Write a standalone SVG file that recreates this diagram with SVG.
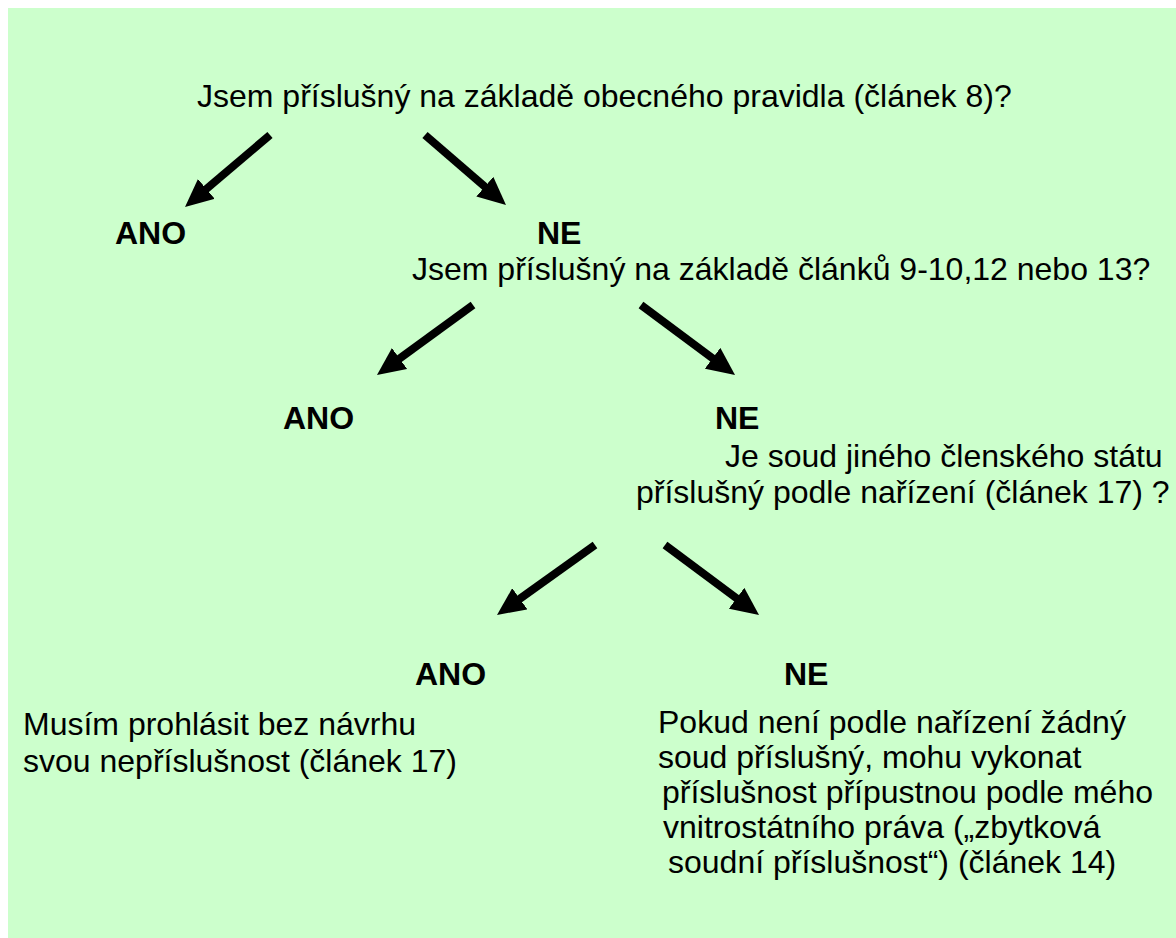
<svg xmlns="http://www.w3.org/2000/svg" width="1176" height="938" viewBox="0 0 1176 938">
  <style>
    text { font-family: "Liberation Sans", Arial, sans-serif; font-size: 32px; fill: #000; }
    .b { font-weight: bold; }
    .conn { stroke: #000; stroke-width: 8; fill: none; marker-end: url(#head); }
  </style>
  <defs>
    <marker id="head" markerUnits="userSpaceOnUse" markerWidth="28" markerHeight="26" refX="14" refY="13" orient="auto">
      <path d="M0,0 L28,13 L0,26 z" fill="#000"/>
    </marker>
  </defs>

  <rect x="8" y="8" width="1168" height="930" fill="#CCFFCC"/>

  <g id="connectors">
    <line class="conn" x1="270" y1="135" x2="195.7" y2="198"/>
    <line class="conn" x1="425" y1="135" x2="495.4" y2="195.8"/>
    <line class="conn" x1="473" y1="305" x2="388.3" y2="366.8"/>
    <line class="conn" x1="641" y1="305" x2="723.8" y2="366.6"/>
    <line class="conn" x1="595" y1="545" x2="508.4" y2="606.9"/>
    <line class="conn" x1="665" y1="545" x2="747.8" y2="606.6"/>
  </g>

  <g id="q1">
    <text x="197" y="107">Jsem příslušný na základě obecného pravidla (článek 8)?</text>
  </g>
  <g id="ano1"><text class="b" x="115" y="244">ANO</text></g>
  <g id="ne1"><text class="b" x="537" y="244">NE</text></g>
  <g id="q2">
    <text x="412" y="280">Jsem příslušný na základě článků 9-10,12 nebo 13?</text>
  </g>
  <g id="ano2"><text class="b" x="283" y="429">ANO</text></g>
  <g id="ne2"><text class="b" x="715" y="429">NE</text></g>
  <g id="q3">
    <text x="725" y="467">Je soud jiného členského státu</text>
    <text x="636" y="503">příslušný podle nařízení (článek 17) ?</text>
  </g>
  <g id="ano3">
    <text class="b" x="415" y="685">ANO</text>
    <text x="23" y="735">Musím prohlásit bez návrhu</text>
    <text x="23" y="772">svou nepříslušnost (článek 17)</text>
  </g>
  <g id="ne3">
    <text class="b" x="784" y="685">NE</text>
    <text x="658" y="733">Pokud není podle nařízení žádný</text>
    <text x="658" y="768">soud příslušný, mohu vykonat</text>
    <text x="662" y="803">příslušnost přípustnou podle mého</text>
    <text x="663" y="838">vnitrostátního práva („zbytková</text>
    <text x="668" y="873">soudní příslušnost“) (článek 14)</text>
  </g>
</svg>
